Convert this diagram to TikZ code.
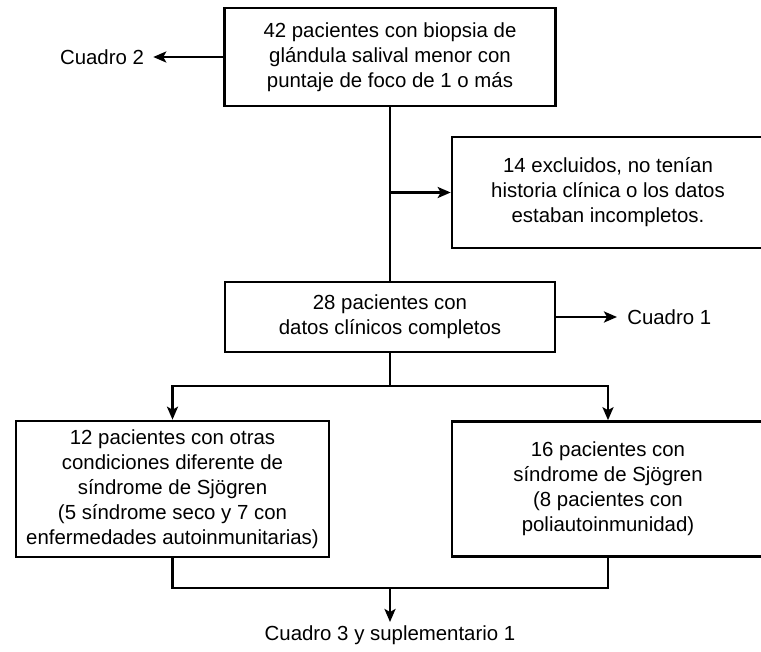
\documentclass[tikz,border=0pt]{standalone}
\usepackage{fontspec}
\setmainfont{Liberation Sans}
\usetikzlibrary{arrows.meta, positioning, calc}

\begin{document}
\begin{tikzpicture}[x=1pt, y=-1pt, line width=2.6pt,
    box/.style={draw, align=center, inner sep=0pt,
      font=\fontsize{20.4}{25}\selectfont},
    lbl/.style={font=\fontsize{20.4}{25}\selectfont},
    arr/.style={-{Stealth[length=13pt, width=11pt, inset=3pt]}}]
  \useasboundingbox (0,0) rectangle (761,652);
  \clip (0,0) rectangle (761,652);

  % boxes
  \node[box, minimum width=331pt, minimum height=98pt] (top) at (390,57)
    {42 pacientes con biopsia de\\ glándula salival menor con\\ puntaje de foco de 1 o más};
  \node[box, minimum width=312pt, minimum height=111pt] (excl) at (608,192.5)
    {14 excluidos, no tenían\\ historia clínica o los datos\\ estaban incompletos.};
  \node[box, minimum width=330pt, minimum height=70pt] (mid) at (390,317)
    {28 pacientes con\\ datos clínicos completos};
  \node[box, minimum width=313pt, minimum height=136pt] (left) at (172.5,489)
    {12 pacientes con otras\\ condiciones diferente de\\ síndrome de Sjögren\\
     (5 síndrome seco y 7 con\\ enfermedades autoinmunitarias)};
  \node[box, minimum width=312pt, minimum height=135pt] (right) at (608,489)
    {16 pacientes con\\ síndrome de Sjögren\\ (8 pacientes con\\ poliautoinmunidad)};

  % outside labels
  \node[lbl, inner xsep=8pt] (c2) at (102,57) {Cuadro 2};
  \node[lbl, anchor=west, inner xsep=9pt] (c1) at (617,317) {Cuadro 1};
  \node[lbl, anchor=north, inner sep=2pt] (c3) at (390,622) {Cuadro 3 y suplementario 1};

  \coordinate (split) at (390,386);
  \coordinate (join) at (390,588);

  % connectors
  \draw[arr] (top.west) -- (c2.east);
  \draw (top.south) -- (mid.north);
  \draw[arr] (top.south |- excl.west) -- (excl.west);
  \draw[arr] (mid.east) -- (c1.west);
  \draw (mid.south) -- (split);
  \draw[arr] (split) -| (left.north);
  \draw[arr] (split) -| (right.north);
  \draw (left.south) |- (join) -| (right.south);
  \draw[arr] (join) -- (c3.north);
\end{tikzpicture}
\end{document}
